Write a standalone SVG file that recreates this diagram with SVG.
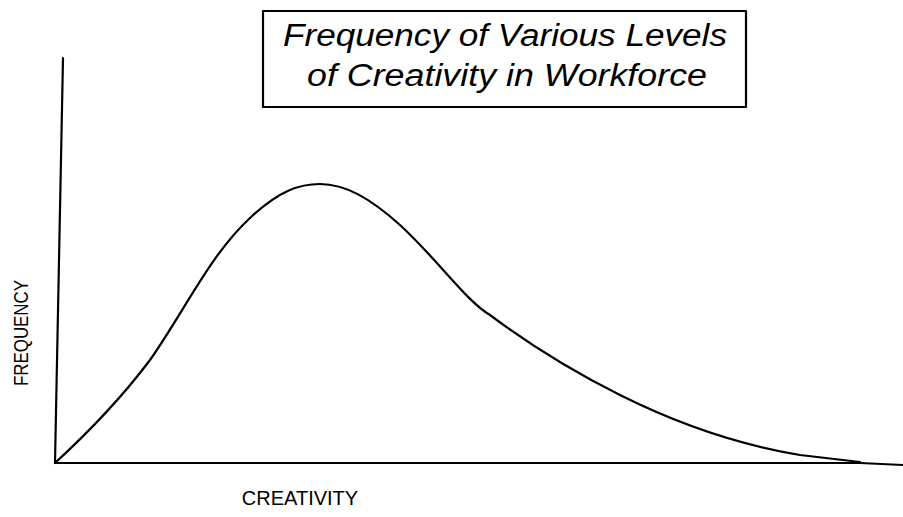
<svg xmlns="http://www.w3.org/2000/svg" width="903" height="517" viewBox="0 0 903 517">
<style>
.ln{fill:none;stroke:#000;stroke-width:2.2;stroke-linecap:round;stroke-linejoin:round}
.t{font-family:"Liberation Sans",Arial,sans-serif;fill:#000}
.ti{font-size:31px;font-style:italic}
</style>
<rect width="903" height="517" fill="#fff"/>
<g id="title">
<rect x="263" y="11" width="483" height="96" class="ln"/>
<text class="t ti" x="283" y="46" textLength="444" lengthAdjust="spacingAndGlyphs">Frequency of Various Levels</text>
<text class="t ti" x="307" y="86" textLength="400" lengthAdjust="spacingAndGlyphs">of Creativity in Workforce</text>
</g>
<g id="axes">
<path class="ln" d="M63 58 L55 463 L860 463 L903 465"/>
</g>
<g id="curve">
<path class="ln" d="M55 463 C80 440 120 400 150 360 C185 310 210 255 250 218 C280 190 300 184 320 184 C345 184 370 198 400 225 C440 262 465 300 490 315 C530 345 570 370 620 395 C680 425 740 445 800 455 L860 462"/>
</g>
<g id="labels">
<text class="t" font-size="21" transform="translate(28,333) rotate(-90)" text-anchor="middle" textLength="106" lengthAdjust="spacingAndGlyphs">FREQUENCY</text>
<text class="t" x="300" y="505" font-size="20" text-anchor="middle">CREATIVITY</text>
</g>
</svg>
